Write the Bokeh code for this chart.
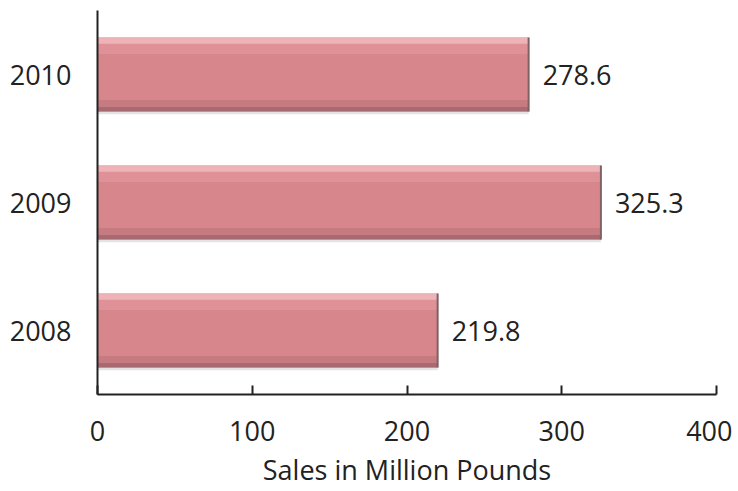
from bokeh.plotting import figure
from bokeh.models import ColumnDataSource, FactorRange, Range1d, FixedTicker
from bokeh.transform import dodge
from bokeh.embed import file_html
from bokeh.resources import INLINE

years = ["2008", "2009", "2010"]
sales = [219.8, 325.3, 278.6]
labels = ["219.8", "325.3", "278.6"]
x_ticks = [0, 100, 200, 300, 400]

src = ColumnDataSource(dict(year=years, sales=sales, label=labels))

FONT = "Open Sans"
FS = "27px"
p = figure(width=732, height=490, output_backend="svg", toolbar_location=None,
           y_range=FactorRange(*years, range_padding=0), x_range=Range1d(0, 400),
           min_border_left=97, min_border_top=10, min_border_bottom=94, min_border_right=16)
p.outline_line_color = None
p.grid.grid_line_color = None
p.background_fill_color = "white"

H = 0.58
yr = p.y_range
# shadow
p.hbar(y=dodge("year", -0.02, range=yr), left=0, right="sales", height=H, source=src,
       fill_color="#cfc6c7", fill_alpha=0.5, line_color=None)
# body
p.hbar(y=dodge("year", 0, range=yr), left=0, right="sales", height=H, source=src,
       fill_color="#d7878c", line_color=None)
# upper lighter band
p.hbar(y=dodge("year", 0.22, range=yr), left=0, right="sales", height=0.12, source=src,
       fill_color="#de9297", line_color=None)
p.hbar(y=dodge("year", 0.265, range=yr), left=0, right="sales", height=0.05, source=src,
       fill_color="#eeb3b6", line_color=None)
# lower darker band
p.hbar(y=dodge("year", -0.235, range=yr), left=0, right="sales", height=0.07, source=src,
       fill_color="#c67b81", line_color=None)
p.hbar(y=dodge("year", -0.272, range=yr), left=0, right="sales", height=0.035, source=src,
       fill_color="#a86a70", line_color=None)
# right edge
p.segment(x0="sales", x1="sales", y0=dodge("year", -0.29, range=yr),
          y1=dodge("year", 0.29, range=yr), source=src, line_color="#7d6165", line_width=2)

# value labels
p.text(x="sales", y="year", text="label", source=src, x_offset=14,
       text_font={"value": FONT}, text_font_size=FS, text_color="#222222",
       text_align="left", text_baseline="middle")

ax = p.xaxis[0]
ax.ticker = FixedTicker(ticks=x_ticks)
ax.axis_line_color = "#222222"
ax.axis_line_width = 2
ax.major_tick_line_color = "#222222"
ax.major_tick_line_width = 2
ax.major_tick_in = 9
ax.major_tick_out = 0
ax.minor_tick_line_color = None
ax.major_label_text_font = FONT
ax.major_label_text_font_size = FS
ax.major_label_text_color = "#222222"
ax.major_label_standoff = 26
ax.axis_label = "Sales in Million Pounds"
ax.axis_label_text_font = FONT
ax.axis_label_text_font_size = FS
ax.axis_label_text_font_style = "normal"
ax.axis_label_text_color = "#222222"
ax.axis_label_standoff = 7

ay = p.yaxis[0]
ay.axis_line_color = "#222222"
ay.axis_line_width = 2
ay.major_tick_line_color = None
ay.minor_tick_line_color = None
ay.major_label_text_font = FONT
ay.major_label_text_font_size = FS
ay.major_label_text_color = "#222222"
ay.major_label_standoff = 20

open("out.html", "w").write(file_html(p, INLINE))
